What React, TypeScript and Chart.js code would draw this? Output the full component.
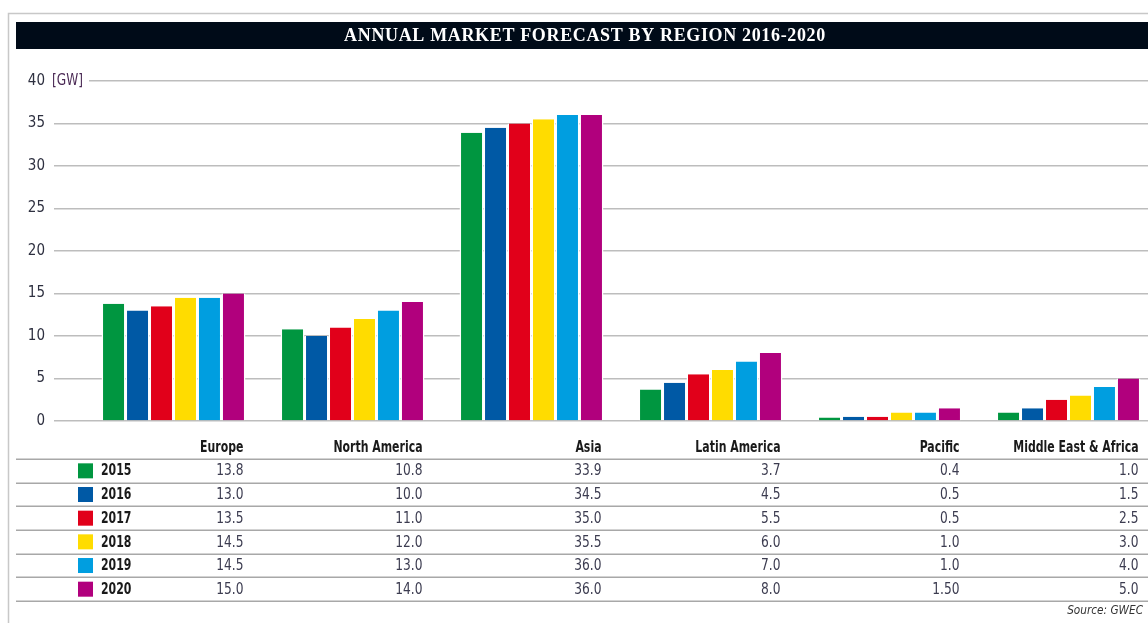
import React, { useEffect, useRef } from "react";
import { Chart, registerables } from "chart.js";

Chart.register(...registerables);

const title = "ANNUAL MARKET FORECAST BY REGION 2016-2020";
const unitLabel = "[GW]";
const sourceLabel = "Source: GWEC";
const regions = ["Europe", "North America", "Asia", "Latin America", "Pacific", "Middle East & Africa"];
const years = ["2015", "2016", "2017", "2018", "2019", "2020"];
const v2015 = [13.8, 10.8, 33.9, 3.7, 0.4, 1.0];
const v2016 = [13.0, 10.0, 34.5, 4.5, 0.5, 1.5];
const v2017 = [13.5, 11.0, 35.0, 5.5, 0.5, 2.5];
const v2018 = [14.5, 12.0, 35.5, 6.0, 1.0, 3.0];
const v2019 = [14.5, 13.0, 36.0, 7.0, 1.0, 4.0];
const v2020 = [15.0, 14.0, 36.0, 8.0, 1.5, 5.0];
const yearColors = ["#009640", "#0059a5", "#e1001a", "#ffdc00", "#009ee0", "#b1007d"];
const yTicks = [0, 5, 10, 15, 20, 25, 30, 35, 40];
const labelOverrides: Record<string, string> = { "2020|Pacific": "1.50" };

const series = [v2015, v2016, v2017, v2018, v2019, v2020];

const NARROW = '"Liberation Sans Narrow", "DejaVu Sans Condensed", Roboto, sans-serif';

const W = 1160;
const H = 623;

function drawText(ctx: any, text: string, x: number, y: number, align: string, font: string, color: string, sx: number) {
  ctx.save();
  ctx.translate(x, y);
  ctx.scale(sx, 1);
  ctx.font = font;
  ctx.fillStyle = color;
  ctx.textAlign = align;
  ctx.textBaseline = "middle";
  ctx.fillText(text, 0, 0);
  ctx.restore();
}

const decorPlugin = {
  id: "decor",
  beforeDraw(chart: any) {
    const ctx = chart.ctx;
    ctx.save();
    ctx.fillStyle = "#ffffff";
    ctx.fillRect(0, 0, chart.width, chart.height);
    ctx.restore();
  },
  afterDraw(chart: any) {
    const ctx = chart.ctx;
    const x = chart.scales.x;
    ctx.save();
    // outer frame
    ctx.strokeStyle = "#c8c8c8";
    ctx.lineWidth = 1.5;
    ctx.beginPath();
    ctx.moveTo(8.5, H);
    ctx.lineTo(8.5, 13.5);
    ctx.lineTo(W, 13.5);
    ctx.stroke();
    // title bar
    ctx.fillStyle = "#000b18";
    ctx.fillRect(16, 22, W - 16, 27);
    ctx.fillStyle = "#ffffff";
    ctx.font = 'bold 18px "Liberation Serif", "DejaVu Serif", serif';
    (ctx as any).letterSpacing = "0.65px";
    ctx.textAlign = "center";
    ctx.textBaseline = "middle";
    ctx.fillText(title, 585, 36.5);
    (ctx as any).letterSpacing = "0px";

    // unit label
    const y40 = chart.scales.y.getPixelForValue(40);
    ctx.fillStyle = "#ffffff";
    ctx.fillRect(49, y40 - 4, 40, 8);
    drawText(ctx, unitLabel, 52, y40, "left", "15px " + NARROW, "#4b2a55", 0.9);

    // table
    const half = 70;
    const rowTop = 459;
    const rowH = 23.67;
    regions.forEach((r, i) => {
      drawText(ctx, r, x.getPixelForValue(i) + half, 448.5, "right", "bold 15px " + NARROW, "#1a1a1a", 0.81);
    });
    ctx.strokeStyle = "#a8a8a8";
    ctx.lineWidth = 1.5;
    for (let i = 0; i <= years.length; i++) {
      const yy = Math.round(rowTop + i * rowH) + 0.25;
      ctx.beginPath();
      ctx.moveTo(16, yy);
      ctx.lineTo(W, yy);
      ctx.stroke();
    }
    years.forEach((yr, j) => {
      const cy = rowTop + (j + 0.5) * rowH;
      ctx.fillStyle = yearColors[j];
      ctx.fillRect(78, cy - 7.5, 15, 15);
      drawText(ctx, yr, 101, cy + 0.5, "left", "bold 16px " + NARROW, "#1a1a1a", 0.76);
      regions.forEach((r, i) => {
        const key = yr + "|" + r;
        const txt = labelOverrides[key] ?? series[j][i].toFixed(1);
        drawText(ctx, txt, x.getPixelForValue(i) + half, cy + 0.5, "right", "16px " + NARROW, "#3c3c50", 0.85);
      });
    });
    // source
    drawText(ctx, sourceLabel, 1143, 611, "right", "italic 13px " + NARROW, "#333333", 0.9);
    ctx.restore();
  },
};

export default function App() {
  const ref = useRef<HTMLCanvasElement | null>(null);
  useEffect(() => {
    if (!ref.current) return;
    const chart = new Chart(ref.current, {
      type: "bar",
      data: {
        labels: regions,
        datasets: years.map((yr, j) => ({
          label: yr,
          data: series[j],
          backgroundColor: yearColors[j],
          borderColor: "#ffffff",
          borderWidth: { left: 1.5, right: 1.5, top: 0, bottom: 0 },
          borderSkipped: false,
          barPercentage: 1,
          categoryPercentage: 0.804,
        })),
      },
      options: {
        responsive: false,
        maintainAspectRatio: false,
        animation: false,
        devicePixelRatio: 1,
        layout: { padding: { left: 0, right: 2, top: 81, bottom: H - 421 } },
        plugins: { legend: { display: false }, tooltip: { enabled: false } },
        scales: {
          x: { display: false, offset: true },
          y: {
            min: 0,
            max: 40,
            afterBuildTicks: (scale: any) => {
              scale.ticks = yTicks.map((v) => ({ value: v }));
            },
            afterFit: (scale: any) => {
              scale.width = 84;
            },
            border: { display: false },
            grid: {
              color: "#bdbdbd",
              lineWidth: 1.5,
              drawTicks: true,
              tickLength: 30,
              tickColor: "#bdbdbd",
            },
            ticks: {
              padding: 9,
              color: "#2e3040",
              font: { family: NARROW, size: 15 },
            },
          },
        },
      },
      plugins: [decorPlugin],
    });
    return () => chart.destroy();
  }, []);
  return (
    <div style={{ position: "absolute", left: 0, top: 0, width: 1148, height: H, overflow: "hidden", background: "#fff" }}>
      <canvas ref={ref} width={W} height={H} style={{ width: W, height: H, display: "block" }} />
    </div>
  );
}
